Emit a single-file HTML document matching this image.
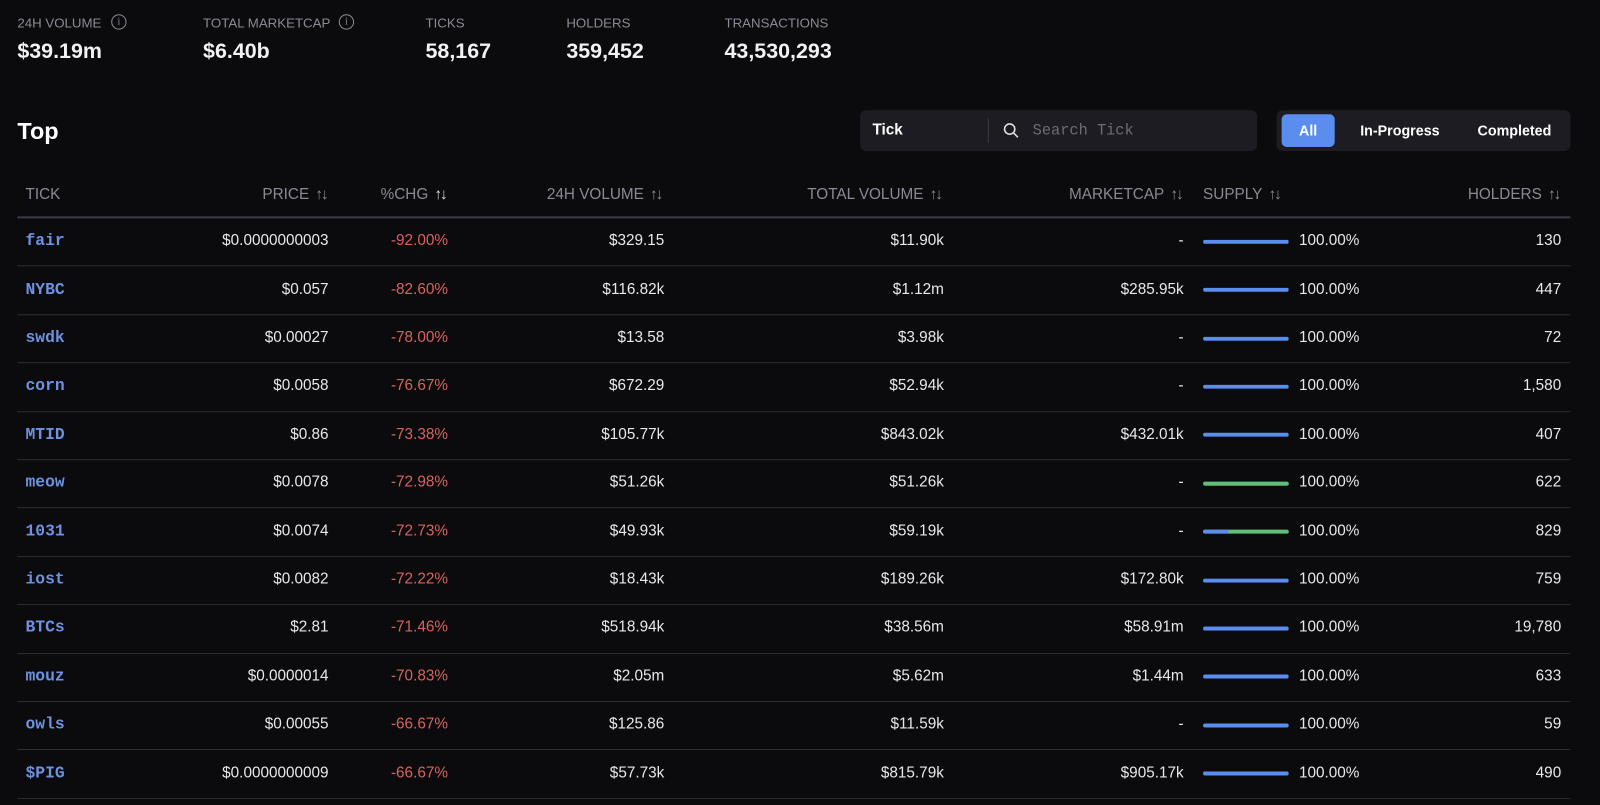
<!DOCTYPE html>
<html><head><meta charset="utf-8">
<style>
html,body{margin:0;padding:0;background:#0b0b0e;overflow:hidden;}
#root{position:absolute;left:0;top:0;width:1568px;height:789px;transform:scale(1.0204);transform-origin:0 0;font-family:"Liberation Sans",sans-serif;color:#e8e8ec;}
.a{position:absolute;white-space:nowrap;}
.lbl{font-size:13px;color:#8a8a94;top:15px;}
.val{font-size:21px;font-weight:bold;color:#f2f2f4;top:39px;}
.info{position:absolute;width:13px;height:13px;border:1.3px solid #8a8a94;border-radius:50%;top:14px;font-size:10px;color:#8a8a94;text-align:center;line-height:13px;font-family:"Liberation Serif",serif;}
.hd{font-size:15px;color:#8a8a94;top:182px;}
.ar{letter-spacing:-2px;margin-left:6px;}
.cell{font-size:15px;line-height:18px;}
.r{text-align:right;}
.tick{font-family:"Liberation Mono",monospace;font-weight:bold;font-size:16px;color:#6e92e0;}
.neg{color:#d9625e;}
.sep{position:absolute;left:17px;width:1522px;height:1px;background:#2c2c34;}
.bar{position:absolute;left:1179px;width:84px;height:4px;border-radius:2px;overflow:hidden;background:#5fbf7a;}
.bar i{display:block;height:100%;background:#5b8def;}
</style></head><body>
<div id="root">
  <div class="a lbl" style="left:17px">24H VOLUME</div>
  <div class="info" style="left:109px">i</div>
  <div class="a val" style="left:17px">$39.19m</div>
  <div class="a lbl" style="left:199px">TOTAL MARKETCAP</div>
  <div class="info" style="left:332px">i</div>
  <div class="a val" style="left:199px">$6.40b</div>
  <div class="a lbl" style="left:417px">TICKS</div>
  <div class="a val" style="left:417px">58,167</div>
  <div class="a lbl" style="left:555px">HOLDERS</div>
  <div class="a val" style="left:555px">359,452</div>
  <div class="a lbl" style="left:710px">TRANSACTIONS</div>
  <div class="a val" style="left:710px">43,530,293</div>

  <div class="a" style="left:17px;top:115px;font-size:23px;font-weight:bold;color:#fff">Top</div>

  <div class="a" style="left:843px;top:108px;width:389px;height:40px;background:#1c1c22;border-radius:6px">
    <div class="a" style="left:12px;top:11px;font-size:15px;font-weight:bold;color:#fff">Tick</div>
    <div class="a" style="left:125px;top:8px;width:1px;height:24px;background:#3a3a44"></div>
    <svg class="a" style="left:140px;top:12px" width="16" height="16"><circle cx="6.5" cy="6.5" r="5" stroke="#ddd" stroke-width="1.6" fill="none"/><line x1="10.3" y1="10.3" x2="14.5" y2="14.5" stroke="#ddd" stroke-width="1.6"/></svg>
    <div class="a" style="left:169px;top:12px;font-size:15px;font-family:'Liberation Mono',monospace;color:#6c6c76">Search Tick</div>
  </div>

  <div class="a" style="left:1251px;top:108px;width:288px;height:40px;background:#1c1c22;border-radius:6px">
    <div class="a" style="left:5px;top:4px;width:52px;height:32px;background:#5b8def;border-radius:5px;color:#fff;font-size:14px;font-weight:bold;text-align:center;line-height:32px">All</div>
    <div class="a" style="left:82px;top:12px;font-size:14px;font-weight:bold;color:#fff">In-Progress</div>
    <div class="a" style="left:197px;top:12px;font-size:14px;font-weight:bold;color:#fff">Completed</div>
  </div>

  <div class="a hd" style="left:25px">TICK</div>
  <div class="a hd r" style="right:1248px">PRICE<span class="ar">↑↓</span></div>
  <div class="a hd" style="left:373px">%CHG<span class="ar" style="color:#ddd">↑↓</span></div>
  <div class="a hd r" style="right:920px">24H VOLUME<span class="ar">↑↓</span></div>
  <div class="a hd r" style="right:646px">TOTAL VOLUME<span class="ar">↑↓</span></div>
  <div class="a hd r" style="right:410px">MARKETCAP<span class="ar">↑↓</span></div>
  <div class="a hd" style="left:1179px">SUPPLY<span class="ar">↑↓</span></div>
  <div class="a hd r" style="right:40px">HOLDERS<span class="ar">↑↓</span></div>
  <div class="sep" style="top:212px;height:2px;background:#3a3a4c"></div>
  <div id="rows"></div>
</div>
<script>
const ticks=["fair","NYBC","swdk","corn","MTID","meow","1031","iost","BTCs","mouz","owls","$PIG"];
const prices=["$0.0000000003","$0.057","$0.00027","$0.0058","$0.86","$0.0078","$0.0074","$0.0082","$2.81","$0.0000014","$0.00055","$0.0000000009"];
const changes=[-92.00,-82.60,-78.00,-76.67,-73.38,-72.98,-72.73,-72.22,-71.46,-70.83,-66.67,-66.67];
const vol24=["$329.15","$116.82k","$13.58","$672.29","$105.77k","$51.26k","$49.93k","$18.43k","$518.94k","$2.05m","$125.86","$57.73k"];
const totalVol=["$11.90k","$1.12m","$3.98k","$52.94k","$843.02k","$51.26k","$59.19k","$189.26k","$38.56m","$5.62m","$11.59k","$815.79k"];
const marketcaps=["-","$285.95k","-","-","$432.01k","-","-","$172.80k","$58.91m","$1.44m","-","$905.17k"];
const supplyPct=[100,100,100,100,100,100,100,100,100,100,100,100];
const mintedBlue=[100,100,100,100,100,0,30,100,100,100,100,100];
const holders=["130","447","72","1,580","407","622","829","759","19,780","633","59","490"];

const rowsEl=document.getElementById('rows');
const rowTop=213, rowH=47.4;
function add(parent,cls,style,text){const d=document.createElement('div');d.className=cls;d.setAttribute('style',style);if(text!==undefined)d.textContent=text;parent.appendChild(d);return d;}
ticks.forEach((t,i)=>{
  const cy=rowTop+rowH*(i+0.5);
  const ty=(cy-9.5)+'px';
  const row=document.createElement('div');
  
  
  rowsEl.appendChild(row);
  let e;
  e=add(row,'a cell tick','left:25px;top:'+ty,t);
  
  
  e=add(row,'a cell r','right:1246px;top:'+ty,prices[i]);
  
  
  e=add(row,'a cell r neg','right:1129px;top:'+ty,changes[i].toFixed(2)+'%');
  
  
  e=add(row,'a cell r','right:917px;top:'+ty,vol24[i]);
  
  
  e=add(row,'a cell r','right:643px;top:'+ty,totalVol[i]);
  
  
  e=add(row,'a cell r','right:408px;top:'+ty,marketcaps[i]);
  
  
  e=add(row,'bar','top:'+(cy-2)+'px');
  
  
  const fill=document.createElement('i');
  fill.style.width=mintedBlue[i]+'%';
  e.appendChild(fill);
  e=add(row,'a cell','left:1273px;top:'+ty,supplyPct[i].toFixed(2)+'%');
  
  
  e=add(row,'a cell r','right:38px;top:'+ty,holders[i]);
  
  
  e=add(row,'sep','top:'+(rowTop+rowH*(i+1))+'px');
  
  
});
</script>
</body></html>
